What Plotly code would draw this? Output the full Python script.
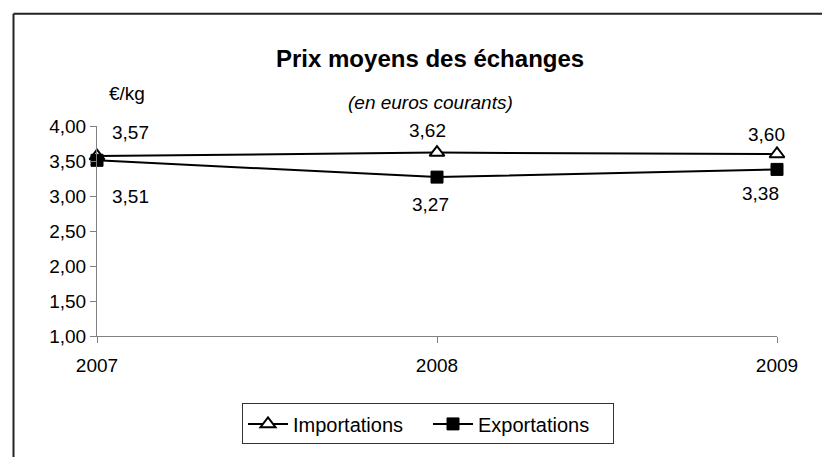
import plotly.graph_objects as go

years = [2007, 2008, 2009]
importations = [3.57, 3.62, 3.60]
exportations = [3.51, 3.27, 3.38]
y_ticks = [1.0, 1.5, 2.0, 2.5, 3.0, 3.5, 4.0]

FONT = "Liberation Sans, Arial, sans-serif"
OFF = 8  # page body margin
W, H = 822, 449
# plot area in screen coords: x 97..777, y 126..341
L, T = 97 - OFF, 126 - OFF
R = W - (777 - OFF)
B = H - (341 - OFF)
pw, ph = W - L - R, H - T - B

def px(x):
    return (x - OFF - L) / pw

def py(y):
    return (H - B - (y - OFF)) / ph

fig = go.Figure()
fig.add_trace(go.Scatter(
    x=years, y=importations, name="Importations", mode="lines+markers",
    line=dict(color="black", width=2),
    marker=dict(symbol="triangle-up", size=13, color="white", line=dict(color="black", width=2)),
    cliponaxis=False))
fig.add_trace(go.Scatter(
    x=years, y=exportations, name="Exportations", mode="lines+markers",
    line=dict(color="black", width=2),
    marker=dict(symbol="square", size=12, color="black", line=dict(color="black", width=1)),
    cliponaxis=False))

def fmt(v):
    return f"{v:.2f}".replace(".", ",")

imp_shift = [(33, 24), (-10, 22), (-11, 20)]
exp_shift = [(33, -36), (-7, -27), (-17, -24)]
for i, yr in enumerate(years):
    dx, dy = imp_shift[i]
    fig.add_annotation(x=yr, y=importations[i], text=fmt(importations[i]), showarrow=False,
                       xanchor="center", yanchor="middle",
                       xshift=dx, yshift=dy, font=dict(family=FONT, size=19, color="black"))
    dx, dy = exp_shift[i]
    fig.add_annotation(x=yr, y=exportations[i], text=fmt(exportations[i]), showarrow=False,
                       xanchor="center", yanchor="middle",
                       xshift=dx, yshift=dy, font=dict(family=FONT, size=19, color="black"))

fig.add_annotation(xref="paper", yref="paper", x=px(430), y=py(57), text="<b>Prix moyens des échanges</b>",
                   xanchor="center", yanchor="middle",
                   showarrow=False, font=dict(family=FONT, size=24, color="black"))
fig.add_annotation(xref="paper", yref="paper", x=px(430), y=py(102), text="<i>(en euros courants)</i>",
                   xanchor="center", yanchor="middle",
                   showarrow=False, font=dict(family=FONT, size=19, color="black"))
fig.add_annotation(xref="paper", yref="paper", x=px(127), y=py(93), text="€/kg",
                   xanchor="center", yanchor="middle",
                   showarrow=False, font=dict(family=FONT, size=19, color="black"))

# outer frame (left and top)
fig.add_shape(type="line", xref="paper", yref="paper", x0=px(13.5), x1=px(13.5), y0=py(11), y1=py(480),
              line=dict(color="#222", width=2))
fig.add_shape(type="line", xref="paper", yref="paper", x0=px(13.5), x1=px(850), y0=py(11), y1=py(11),
              line=dict(color="#222", width=2))

fig.update_layout(
    width=W, height=H, margin=dict(l=L, r=R, t=T, b=B),
    paper_bgcolor="white", plot_bgcolor="white",
    separators=", ",
    font=dict(family=FONT, size=19, color="black"),
    showlegend=True,
    legend=dict(orientation="h", x=px(242), y=py(410), xanchor="left", yanchor="top",
                bordercolor="#333", borderwidth=1, bgcolor="white",
                font=dict(family=FONT, size=20, color="black"),
                itemwidth=40, entrywidth=130, tracegroupgap=0),
)
fig.update_xaxes(range=[2007, 2009], tickvals=years, ticktext=[str(y) for y in years],
                 showgrid=False, zeroline=False, showline=True, linecolor="#808080", linewidth=1,
                 ticks="outside", ticklen=6, tickcolor="#808080", ticklabelstandoff=6,
                 tickfont=dict(family=FONT, size=19, color="black"))
fig.update_yaxes(range=[1, 4], tickvals=y_ticks, tickformat=".2f",
                 showgrid=False, zeroline=False, showline=True, linecolor="#808080", linewidth=1,
                 ticks="outside", ticklen=6, tickcolor="#808080",
                 tickfont=dict(family=FONT, size=19, color="black"))

fig.write_html("out.html")
